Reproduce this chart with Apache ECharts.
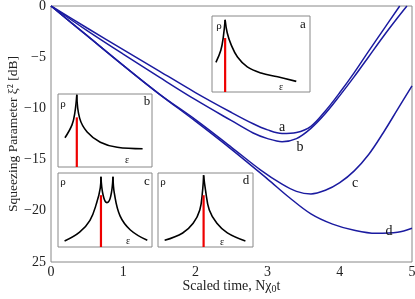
<!DOCTYPE html>
<html><head><meta charset="utf-8">
<script src="https://cdn.jsdelivr.net/npm/echarts@6/dist/echarts.min.js"></script>
<style>html,body{margin:0;padding:0;background:#fff}#c{width:415px;height:299px}</style>
</head><body><div id="c"></div>
<script>
// Main curves: [scaled time, squeezing dB]
const curveA = [[0,0],[0.5,-2.15],[1,-4.25],[1.5,-6.35],[2,-8.45],[2.5,-10.4],[2.8,-11.5],[3.0,-12.1],[3.2,-12.45],[3.4,-12.35],[3.6,-11.75],[3.8,-10.25],[4.0,-8.45],[4.2,-6.5],[4.4,-4.4],[4.6,-2.35],[4.83,0]];
const curveB = [[0,0],[0.5,-2.4],[1,-4.7],[1.5,-6.95],[2,-9.15],[2.5,-11.2],[2.8,-12.4],[3.0,-12.95],[3.2,-13.25],[3.4,-12.95],[3.6,-11.95],[3.8,-10.5],[4.0,-8.75],[4.2,-6.9],[4.4,-4.95],[4.6,-3.0],[4.8,-1.15],[4.93,0]];
const curveC = [[0,0],[0.5,-2.9],[1,-5.8],[1.5,-8.6],[2,-11.1],[2.5,-13.8],[2.9,-16.0],[3.2,-17.4],[3.4,-18.1],[3.6,-18.35],[3.8,-18.0],[4.0,-17.25],[4.2,-16.1],[4.4,-14.5],[4.6,-12.4],[4.8,-10.1],[5.0,-7.8]];
const curveD = [[0,0],[0.5,-2.9],[1,-5.8],[1.5,-8.6],[2,-11.25],[2.5,-14.0],[3.0,-16.9],[3.3,-18.7],[3.6,-20.3],[3.9,-21.3],[4.2,-21.9],[4.5,-22.2],[4.8,-22.1],[5.0,-21.7]];
const xTicks = [0,1,2,3,4,5];
const yTickLabels = {"0":"0","-5":"−5","-10":"−10","-15":"−15","-20":"−20","-25":"25"};
const curveLabels = ["a","b","c","d"];

// Insets: normalized [epsilon, rho]
const insetA = {left:[[0.04,0.39],[0.09,0.55],[0.115,0.72],[0.134,0.95]],
                right:[[0.134,0.95],[0.155,0.78],[0.196,0.62],[0.26,0.46],[0.36,0.33],[0.5,0.25],[0.67,0.2],[0.86,0.14]],
                red:[[0.134,0],[0.134,0.71]]};
const insetB = {left:[[0.074,0.4],[0.15,0.58],[0.18,0.75],[0.2,0.99]],
                right:[[0.2,0.99],[0.23,0.67],[0.31,0.48],[0.45,0.34],[0.63,0.27],[0.9,0.25]],
                red:[[0.2,0],[0.2,0.68]]};
const insetC = {left:[[0.07,0.08],[0.23,0.2],[0.34,0.36],[0.41,0.59],[0.45,0.8],[0.457,0.95]],
                mid:[[0.457,0.95],[0.48,0.7],[0.52,0.6],[0.56,0.68],[0.585,0.95]],
                right:[[0.585,0.95],[0.6,0.72],[0.66,0.42],[0.77,0.23],[0.95,0.09]],
                red:[[0.457,0],[0.457,0.7]]};
const insetD = {left:[[0.07,0.09],[0.26,0.19],[0.37,0.32],[0.44,0.5],[0.47,0.77],[0.48,0.97]],
                right:[[0.48,0.97],[0.5,0.77],[0.54,0.5],[0.62,0.32],[0.73,0.19],[0.92,0.08]],
                red:[[0.48,0],[0.48,0.7]]};

const serif = '"Liberation Serif","DejaVu Serif",serif';
const blue = '#1b1ba0';
const chart = echarts.init(document.getElementById('c'), null, {renderer:'canvas'});

const insetGrids = [
  {left:212, top:16, width:98, height:76},
  {left:58, top:94, width:94, height:73},
  {left:58, top:173, width:94, height:74},
  {left:158, top:173, width:95, height:74}
];
const grids = [{left:51, right:3, top:6, bottom:37, show:true, borderColor:'#888', borderWidth:1, backgroundColor:'transparent', z:0, containLabel:false, outerBoundsMode:'none'}];
insetGrids.forEach(g => grids.push(Object.assign({show:true, borderColor:'#888', borderWidth:1, backgroundColor:'#fff', z:5, containLabel:false, outerBoundsMode:'none'}, g)));

const xAxes = [{type:'value', gridIndex:0, min:0, max:5, interval:1,
  axisLine:{show:false}, axisTick:{show:false}, splitLine:{show:false},
  axisLabel:{color:'#222', fontFamily:serif, fontSize:14, margin:3},
  name:'Scaled time, Nχ{s|0}t', nameLocation:'middle', nameGap:16, nameMoveOverlap:false,
  nameTextStyle:{color:'#222', fontFamily:serif, fontSize:14, rich:{s:{fontFamily:serif, fontSize:10, padding:[6,0,0,0], color:'#222'}}}}];
const yAxes = [{type:'value', gridIndex:0, min:-25, max:0, interval:5,
  axisLine:{show:false}, axisTick:{show:false}, splitLine:{show:false},
  axisLabel:{color:'#222', fontFamily:serif, fontSize:14, margin:5, formatter:v => yTickLabels[String(v)]},
  name:'Squeezing Parameter ξ² [dB]', nameLocation:'middle', nameGap:31, nameMoveOverlap:false,
  nameTextStyle:{color:'#222', fontFamily:serif, fontSize:13.5}}];
for (let i=1;i<=4;i++){
  xAxes.push({type:'value', gridIndex:i, min:0, max:1, show:false});
  yAxes.push({type:'value', gridIndex:i, min:0, max:1, show:false});
}

const mainLine = (d) => ({type:'line', xAxisIndex:0, yAxisIndex:0, data:d, smooth:0.35, showSymbol:false, symbol:'none',
  lineStyle:{color:blue, width:1.5}, z:2, silent:true});
const series = [mainLine(curveA), mainLine(curveB), mainLine(curveC), mainLine(curveD)];
const insets = [insetA, insetB, insetC, insetD];
insets.forEach((ins, k) => {
  const idx = k+1;
  ['left','mid','right'].forEach(part => {
    if (!ins[part]) return;
    series.push({type:'line', xAxisIndex:idx, yAxisIndex:idx, data:ins[part], smooth:0.4, symbol:'none',
      lineStyle:{color:'#000', width:1.6}, z:10, silent:true});
  });
  series.push({type:'line', xAxisIndex:idx, yAxisIndex:idx, data:ins.red, symbol:'none',
    lineStyle:{color:'#ee0000', width:2.2}, z:11, silent:true});
});

const txt = (x,y,t,size,extra) => Object.assign({type:'text', x:x, y:y, z:20, style:{text:t, fill:'#111', font:size+'px '+serif, textAlign:'center', textVerticalAlign:'middle'}}, extra||{});
const graphics = [
  txt(282,127,curveLabels[0],14), txt(300,147,curveLabels[1],14), txt(355,183,curveLabels[2],14), txt(389,231,curveLabels[3],14),
  txt(219,26,'ρ',11), txt(303,25,'a',13), txt(281,87,'ε',10),
  txt(63,104,'ρ',11), txt(147,102,'b',13), txt(127,160,'ε',10),
  txt(63,182,'ρ',11), txt(147,182,'c',13), txt(128,241,'ε',10),
  txt(163,182,'ρ',11), txt(246,181,'d',13), txt(222,242,'ε',10)
];

chart.setOption({
  animation:false,
  backgroundColor:'#fff',
  grid:grids, xAxis:xAxes, yAxis:yAxes, series:series,
  graphic:graphics
});
</script>
</body></html>
